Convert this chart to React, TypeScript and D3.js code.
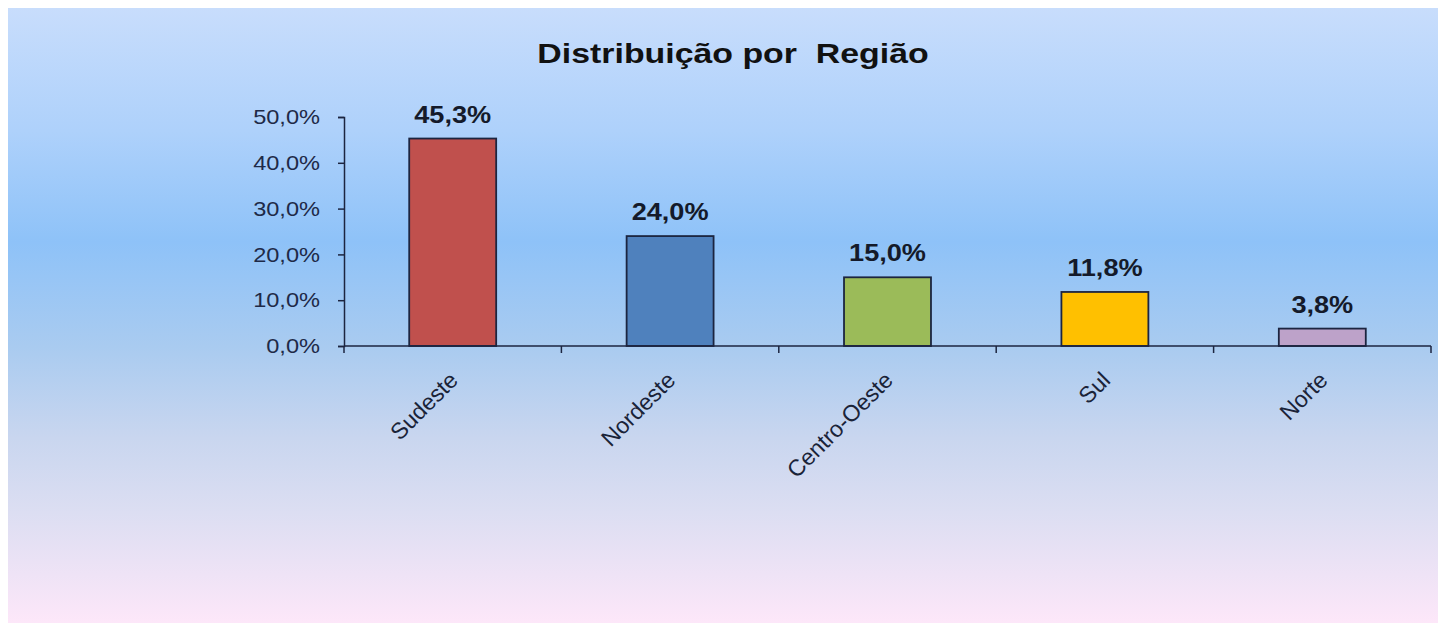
import { useEffect, useRef } from 'react';
import * as d3 from 'd3';

const regions = ['Sudeste', 'Nordeste', 'Centro-Oeste', 'Sul', 'Norte'];
const shares = [45.3, 24.0, 15.0, 11.8, 3.8];
const barColors = ['#c0504d', '#4f81bd', '#9bbb59', '#ffc000', '#bda2c9'];
const yTicks = [0, 10, 20, 30, 40, 50];

const fmt = (v: number) => v.toFixed(1).replace('.', ',') + '%';
const FONT = 'Liberation Sans, Arial, sans-serif';
// the source picture's lettering is a little wider than Liberation Sans
const SX = 1.18;

export default function App() {
  const svgRef = useRef<SVGSVGElement>(null);
  const width = 1438;
  const height = 623;

  useEffect(() => {
    if (!svgRef.current) return;
    const svg = d3.select(svgRef.current);
    svg.selectAll('*').remove();

    // background gradient
    const defs = svg.append('defs');
    const grad = defs.append('linearGradient')
      .attr('id', 'bg')
      .attr('x1', 0).attr('y1', 0).attr('x2', 0).attr('y2', 1);
    [
      [0, '#c8ddfc'],
      [0.2, '#aed1fb'],
      [0.38, '#8ec2f8'],
      [0.55, '#a9cbf0'],
      [0.7, '#c9d6ef'],
      [0.82, '#dcdef2'],
      [1, '#fde7f9'],
    ].forEach(([o, c]) => grad.append('stop').attr('offset', o as number).attr('stop-color', c as string));

    svg.append('rect').attr('width', width).attr('height', height).attr('fill', '#ffffff');
    svg.append('rect')
      .attr('x', 8).attr('y', 8)
      .attr('width', width - 8).attr('height', height - 8)
      .attr('fill', 'url(#bg)');

    const left = 344;
    const right = 1431;
    const top = 117;
    const bottom = 346;
    const ink = '#1c2540';

    const x = d3.scaleBand<string>()
      .domain(regions)
      .range([left, right])
      .paddingInner(0.6)
      .paddingOuter(0.3);

    const y = d3.scaleLinear()
      .domain([0, 50])
      .range([bottom, top]);

    // title
    svg.append('text')
      .attr('transform', `translate(733,63) scale(1.21,1)`)
      .attr('text-anchor', 'middle')
      .attr('font-family', FONT)
      .attr('font-weight', 'bold')
      .attr('font-size', 28)
      .attr('fill', '#111111')
      .style('white-space', 'pre')
      .text('Distribuição por  Região');

    // y axis
    const yAxis = svg.append('g')
      .attr('transform', `translate(${left},0)`)
      .call(d3.axisLeft(y).tickValues(yTicks).tickSize(6).tickFormat(() => ''));
    yAxis.select('.domain').attr('stroke', ink).attr('stroke-width', 1.5);
    yAxis.selectAll('.tick line').attr('stroke', ink).attr('stroke-width', 1.5);

    yTicks.forEach(t => {
      svg.append('text')
        .attr('transform', `translate(320,${y(t)}) scale(${SX},1)`)
        .attr('text-anchor', 'end')
        .attr('dy', '0.36em')
        .attr('font-family', FONT)
        .attr('font-size', 20)
        .attr('fill', '#1e2a48')
        .text(fmt(t));
    });

    // bars
    regions.forEach((r, i) => {
      svg.append('rect')
        .attr('x', x(r)!)
        .attr('y', y(shares[i]))
        .attr('width', x.bandwidth())
        .attr('height', y(0) - y(shares[i]))
        .attr('fill', barColors[i])
        .attr('stroke', ink)
        .attr('stroke-width', 1.8);

      svg.append('text')
        .attr('transform', `translate(${x(r)! + x.bandwidth() / 2},${y(shares[i]) - 16}) scale(${SX},1)`)
        .attr('text-anchor', 'middle')
        .attr('font-family', FONT)
        .attr('font-weight', 'bold')
        .attr('font-size', 23)
        .attr('fill', '#141a2a')
        .text(fmt(shares[i]));
    });

    // x axis
    const step = (right - left) / regions.length;
    const xAxis = svg.append('g');
    xAxis.append('line')
      .attr('x1', left).attr('x2', right)
      .attr('y1', bottom).attr('y2', bottom)
      .attr('stroke', ink).attr('stroke-width', 1.5);
    d3.range(regions.length + 1).forEach(i => {
      xAxis.append('line')
        .attr('x1', left + step * i).attr('x2', left + step * i)
        .attr('y1', bottom).attr('y2', bottom + 7)
        .attr('stroke', ink).attr('stroke-width', 1.5);
    });

    regions.forEach(r => {
      const cx = x(r)! + x.bandwidth() / 2 + 1;
      svg.append('text')
        .attr('transform', `translate(${cx},${bottom + 30}) rotate(-45)`)
        .attr('text-anchor', 'end')
        .attr('dy', '0.35em')
        .attr('font-family', FONT)
        .attr('font-size', 23)
        .attr('fill', '#1a2338')
        .text(r);
    });
  }, []);

  return (
    <svg
      ref={svgRef}
      width={width}
      height={height}
      style={{ position: 'absolute', left: 0, top: 0, display: 'block' }}
    />
  );
}
